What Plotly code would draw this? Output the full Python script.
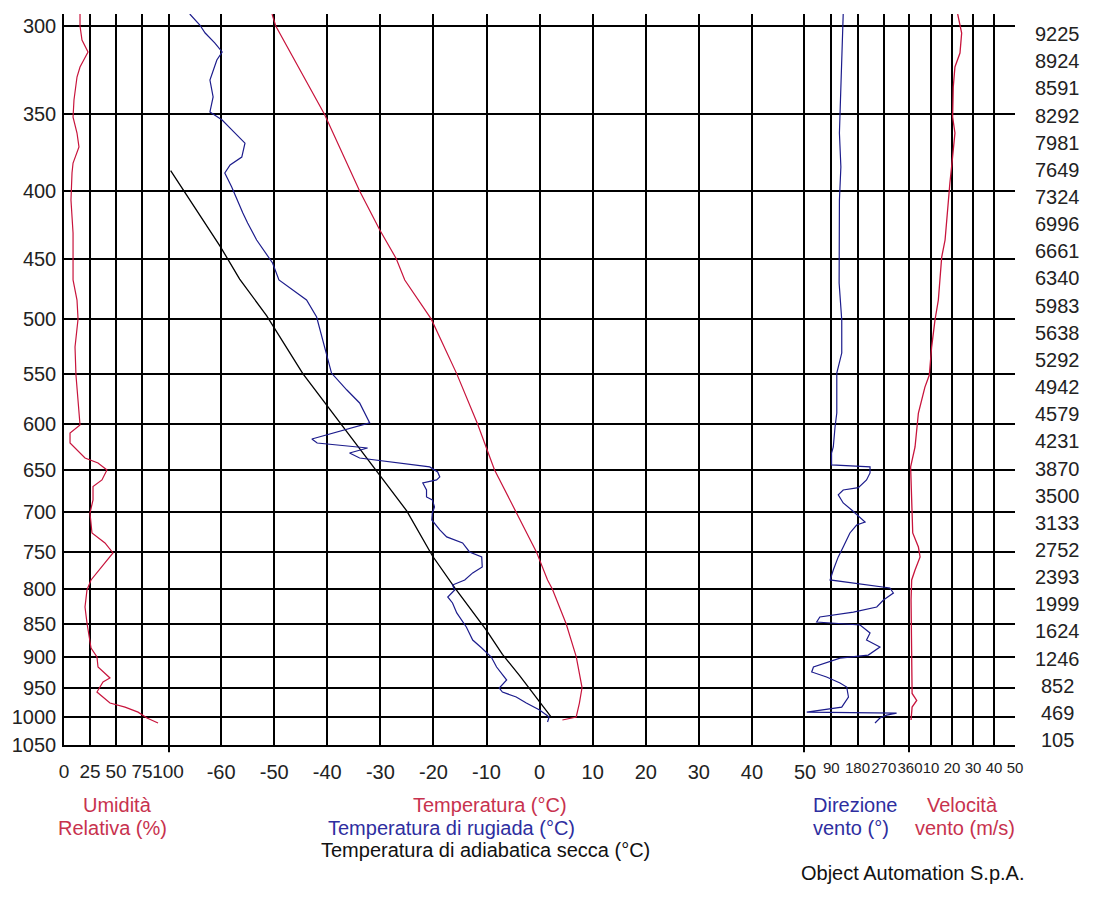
import plotly.graph_objects as go

# ---------------- data ----------------
# Relative humidity (%) vs pressure (hPa)
rh_p = [293.8, 300, 307.4, 313.9, 322.2, 327.9, 341.3, 351.6, 361.5, 370.4, 380.9, 387.6,
        406.3, 430.3, 456.6, 467.0, 483.6, 499.8, 524.9, 551.1, 601.2, 609.7, 620.4, 628.0,
        636.8, 642.4, 650.2, 661.6, 669.4, 685.1, 700.8, 725.7, 738.4, 751.4, 769.9, 787.6,
        801.5, 825.6, 849.0, 886.8, 900.8, 916.6, 934.3, 940.9, 957.4, 976.0, 982.9, 991.6,
        1001.7, 1010.5]
rh_v = [15.4, 15.4, 17.3, 23.1, 15.4, 12.5, 9.6, 8.7, 12.5, 14.4, 8.7, 7.7,
        6.7, 8.7, 8.7, 8.7, 12.5, 13.5, 10.6, 11.5, 15.4, 5.8, 5.8, 12.5,
        20.2, 32.7, 41.3, 36.5, 27.9, 27.9, 25.0, 26.9, 39.4, 47.1, 36.5, 26.0,
        22.1, 20.2, 22.1, 26.0, 31.7, 32.7, 44.2, 37.5, 31.7, 44.2, 58.7, 71.2,
        79.8, 90.4]

# Temperature (°C)
t_p = [293.8, 300, 350, 400, 428, 450, 467, 500, 550, 600, 650, 700, 750, 787.6, 800,
       850, 900, 950, 976, 1000, 1005.3]
t_v = [-50.4, -49.7, -40.5, -33.9, -30.1, -27.0, -25.4, -20.4, -15.6, -11.7, -8.5, -4.4,
       -0.6, 1.5, 2.4, 5.0, 6.9, 8.0, 7.5, 6.9, 4.3]

# Dew point (°C)
td_p = [293.8, 299.5, 303.7, 309.0, 313.9, 318.3, 329.6, 339.5, 348.5, 353.4, 358.4, 367.9,
        377.0, 382.2, 387.6, 397.2, 415.6, 422.9, 435.6, 453.4, 467.0, 483.6, 498.1, 524.9,
        549.2, 565.7, 578.6, 599.1, 616.1, 620.4, 625.8, 631.3, 636.8, 646.8, 652.5, 658.2,
        661.6, 665.1, 673.3, 681.5, 685.1, 693.5, 700.8, 709.4, 721.9, 730.7, 738.4, 750.1,
        756.6, 769.9, 778.0, 787.6, 794.5, 801.5, 811.3, 819.8, 834.2, 854.9, 874.5, 886.8,
        900.8, 916.6, 937.6, 950.8, 957.4, 965.8, 976.0, 988.0, 1000.1, 1008.8]
td_v = [-65.9, -64.0, -63.0, -61.2, -59.8, -60.8, -62.1, -61.5, -62.1, -59.8, -58.3, -55.5,
        -56.1, -58.3, -59.3, -58.0, -55.9, -55.0, -53.3, -50.3, -49.1, -43.9, -42.0, -40.5,
        -39.2, -36.3, -33.9, -32.0, -42.9, -41.9, -32.4, -35.8, -33.9, -20.7, -19.2, -18.8,
        -19.4, -22.0, -21.3, -21.3, -20.2, -19.8, -20.2, -20.3, -18.8, -17.5, -14.5, -13.2,
        -10.9, -10.8, -12.6, -14.1, -16.4, -16.0, -17.3, -16.4, -15.6, -13.8, -12.6, -10.9,
        -9.1, -8.1, -6.2, -7.6, -7.0, -4.4, -2.5, 0.0, 1.8, 1.5]

# Dry adiabat (°C)
ad_p = [386.0, 440.2, 466.3, 497.1, 549.7, 581.0, 633.9, 648.3, 698.5, 755.1, 798.2,
        860.0, 896.6, 929.9, 966.1, 1000.2]
ad_v = [-69.5, -60.2, -56.5, -51.4, -44.6, -40.1, -33.0, -31.1, -25.0, -20.2, -16.0,
        -10.0, -7.0, -3.8, -0.6, 2.2]

# Wind direction (°)
dir_p = [293.8, 303.7, 322.2, 341.3, 361.5, 383.6, 406.3, 469.5, 500.7, 530.4, 549.2, 588.8,
         603.3, 624.7, 631.3, 644.6, 646.8, 653.6, 661.6, 670.6, 673.3, 679.0, 688.7, 697.2,
         705.7, 711.9, 715.7, 725.7, 743.7, 756.6, 774.0, 787.6, 798.7, 805.7, 815.6, 825.6,
         833.0, 840.1, 847.5, 851.9, 863.9, 874.5, 885.2, 897.7, 902.5, 916.6, 924.6, 932.7,
         942.5, 949.1, 965.8, 982.9, 991.6, 993.3, 996.8, 1001.7, 1010.5]
dir_v = [131, 129, 126, 120, 118, 123, 118, 117, 126, 126, 109, 109,
         103, 97, 91, 91, 223, 223, 211, 183, 131, 114, 131, 160,
         189, 206, 177, 154, 131, 114, 97, 86, 291, 303, 269, 246,
         166, 51, 40, 189, 223, 211, 257, 217, 120, 29, 23, 74,
         120, 143, 149, 126, 6, 314, 280, 257, 240]

# Wind speed (m/s)
sp_p = [293.8, 300.5, 303.7, 314.5, 322.2, 333.6, 351.6, 361.5, 370.4, 383.6, 394.4, 418.5,
        435.6, 448.7, 469.5, 483.6, 500.7, 524.9, 551.1, 562.8, 588.8, 603.3, 624.7, 646.8,
        700.8, 725.7, 743.7, 756.6, 774.0, 787.6, 815.6, 890.0, 959.8, 971.6, 982.9, 1005.3]
sp_v = [22.7, 23.8, 24.6, 23.8, 21.4, 20.6, 20.3, 21.4, 20.6, 19.8, 19.0, 17.5,
        16.7, 15.1, 14.0, 13.5, 11.9, 10.3, 9.2, 7.1, 4.0, 3.2, 2.4, 0.3,
        0.8, 1.3, 4.0, 4.8, 2.4, 0.8, 0.5, 0.6, 1.0, 3.2, 1.0, 0.5]

# Axis ticks
p_ticks = list(range(300, 1051, 50))
rh_ticks = [0, 25, 50, 75, 100]
t_ticks = [-60, -50, -40, -30, -20, -10, 0, 10, 20, 30, 40, 50]
dir_ticks = [90, 180, 270, 360]
sp_ticks = [10, 20, 30, 40, 50]
heights = [105, 469, 852, 1246, 1624, 1999, 2393, 2752, 3133, 3500, 3870, 4231, 4579, 4942,
           5292, 5638, 5983, 6340, 6661, 6996, 7324, 7649, 7981, 8292, 8591, 8924, 9225]

# ---------------- styling ----------------
RED = "#c8143c"
BLUE = "#1c1c8c"
RED_TXT = "#c8324e"
BLUE_TXT = "#2e2ea0"
FONT = "Liberation Sans, Arial, sans-serif"
FS = 20
TXT = "#222222"

fig = go.Figure()
fig.add_trace(go.Scatter(x=rh_v, y=rh_p, xaxis="x", yaxis="y", mode="lines",
                         line=dict(color=RED, width=1.2), name="Umidità"))
fig.add_trace(go.Scatter(x=ad_v, y=ad_p, xaxis="x2", yaxis="y", mode="lines",
                         line=dict(color="black", width=1.3), name="Adiabatica"))
fig.add_trace(go.Scatter(x=td_v, y=td_p, xaxis="x2", yaxis="y", mode="lines",
                         line=dict(color=BLUE, width=1.2), name="Rugiada"))
fig.add_trace(go.Scatter(x=t_v, y=t_p, xaxis="x2", yaxis="y", mode="lines",
                         line=dict(color=RED, width=1.2), name="Temperatura"))
fig.add_trace(go.Scatter(x=dir_v, y=dir_p, xaxis="x3", yaxis="y", mode="lines",
                         line=dict(color=BLUE, width=1.2), name="Direzione"))
fig.add_trace(go.Scatter(x=sp_v, y=sp_p, xaxis="x4", yaxis="y", mode="lines",
                         line=dict(color=RED, width=1.3), name="Velocità"))

# plot-area geometry in screen pixels (page body has an 8 px margin)
OFF = 8
FW, FH = 1104 - OFF, 900 - OFF
L, R, T, B = 64, 1015, 14, 745
W, H = R - L, B - T
def px(x):
    return (x - L) / W
def py(y):
    return (B - y) / H

def xaxis(dom, rng, ticks, fs):
    return dict(domain=dom, range=rng, tickmode="array", tickvals=ticks,
                ticktext=[str(v) for v in ticks], showgrid=True, gridcolor="black",
                gridwidth=1.5, showline=True, linecolor="black", linewidth=1.5,
                ticks="", tickangle=0, zeroline=False, anchor="y", automargin=False,
                tickfont=dict(family=FONT, size=fs, color=TXT), ticklabelstandoff=8)

fig.update_layout(
    width=FW, height=FH,
    margin=dict(l=L - OFF, r=FW - (R - OFF), t=T - OFF, b=FH - (B - OFF), autoexpand=False),
    paper_bgcolor="white", plot_bgcolor="white",
    showlegend=False,
    font=dict(family=FONT, size=FS, color=TXT),
    xaxis=xaxis([0, px(168)], [0, 100], rh_ticks, 19),
    xaxis2=xaxis([px(168), px(805)], [-70, 50], t_ticks, FS),
    xaxis3=xaxis([px(805), px(910)], [0, 360], dir_ticks, 15),
    xaxis4=xaxis([px(910), 1], [0, 50], sp_ticks, 15),
    yaxis=dict(type="log", range=[3.02119, 2.46805], tickmode="array", tickvals=p_ticks,
               ticktext=[str(v) for v in p_ticks],
               showgrid=True, gridcolor="black", gridwidth=1.5, showline=True,
               linecolor="black", linewidth=1.5, ticks="", zeroline=False,
               automargin=False,
               tickfont=dict(family=FONT, size=FS, color=TXT), ticklabelstandoff=2),
    yaxis2=dict(overlaying="y", range=[-0.1842, 26.74], visible=False, anchor="x4",
                automargin=False),
)

# thick separators between panels
for xr, xv in [("x2", -70), ("x2", 50), ("x3", 360)]:
    fig.add_shape(type="line", xref=xr, x0=xv, x1=xv, yref="paper", y0=-0.01, y1=1,
                  line=dict(color="black", width=4))

# altitude labels on the right
for i, h in enumerate(heights):
    fig.add_annotation(x=px(1057), xref="paper", y=i, yref="y2", text=str(h),
                       showarrow=False, xanchor="center", yanchor="middle",
                       font=dict(family=FONT, size=FS, color=TXT))

# bottom titles
titles = [
    ("Umidità", 117, 805, RED_TXT),
    ("Relativa (%)", 112, 828, RED_TXT),
    ("Temperatura (°C)", 490, 805, RED_TXT),
    ("Temperatura di rugiada (°C)", 451, 828, BLUE_TXT),
    ("Temperatura di adiabatica secca (°C)", 485, 850, "#111111"),
    ("Direzione", 855, 805, BLUE_TXT),
    ("vento (°)", 851, 828, BLUE_TXT),
    ("Velocità", 962, 805, RED_TXT),
    ("vento (m/s)", 965, 828, RED_TXT),
    ("Object Automation S.p.A.", 912, 873, "#111111"),
]
for txt, xx, yy, col in titles:
    fig.add_annotation(x=px(xx), xref="paper", y=py(yy), yref="paper", text=txt,
                       showarrow=False, xanchor="center", yanchor="middle",
                       font=dict(family=FONT, size=FS, color=col))

fig.write_html("out.html")
